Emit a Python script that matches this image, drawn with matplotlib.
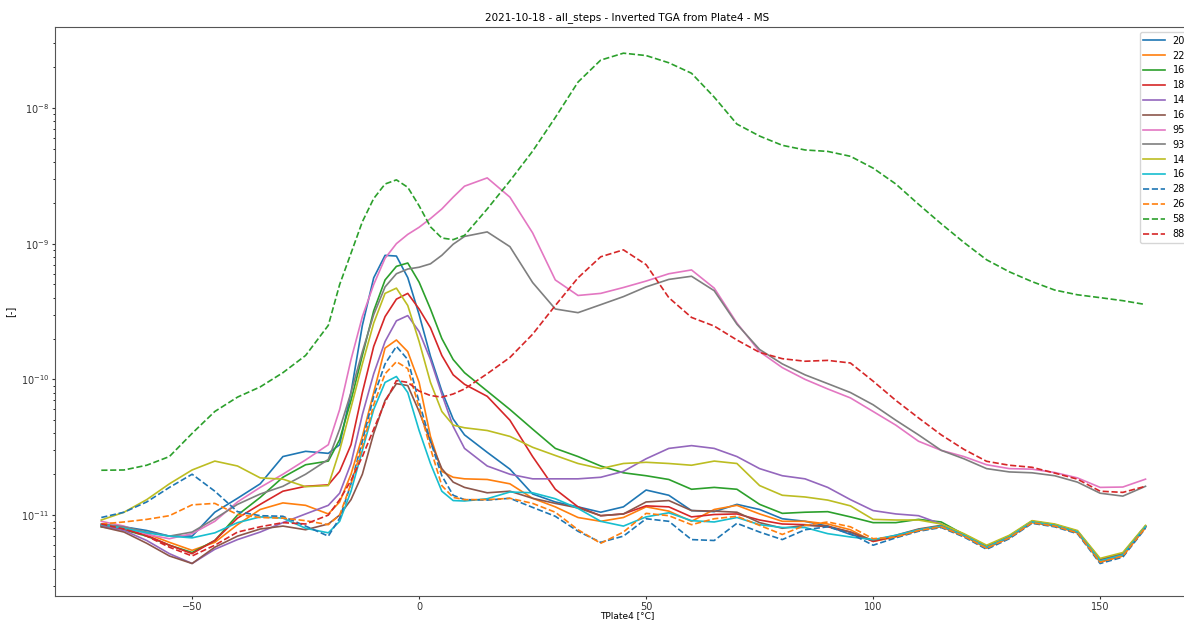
import matplotlib
matplotlib.use("Agg")
import matplotlib.pyplot as plt

# temperature grid [°C]
temp = [-70, -65, -60, -55, -50, -45, -40, -35, -30, -25, -20,
        -17.5, -15, -12.5, -10, -7.5, -5, -2.5, 0, 2.5, 5, 7.5, 10,
        15, 20, 25, 30, 35, 40, 45, 50, 55, 60, 65, 70, 75, 80, 85, 90, 95, 100,
        105, 110, 115, 120, 125, 130, 135, 140, 145, 150, 155, 160]

# signals in units of 1e-12
s209 = [8.5, 8.2, 7.7, 7.0, 7.0, 10.5, 13.3, 17, 27, 29.5, 28.5,
        33, 80, 250, 560, 820, 810, 562, 300, 148, 82, 51, 39,
        29, 21.8, 14.3, 12.5, 11.5, 10.5, 11.5, 15.3, 14, 10.8, 10.6, 12, 11, 9.4, 9.0, 8.3, 7.2, 6.5,
        7.0, 7.8, 8.3, 7.1, 5.8, 6.9, 8.9, 8.4, 7.5, 4.6, 5.1, 8.2]
s226 = [8.4, 8.0, 7.3, 6.3, 5.5, 6.3, 8.5, 11, 12.3, 11.8, 10.2,
        12.5, 20, 38, 80, 170, 195, 160, 95, 38, 21, 19, 18.5,
        18.3, 17, 13.3, 11.5, 9.6, 9.0, 9.6, 11.5, 10.7, 9.0, 11, 11.8, 10.2, 9.0, 9.0, 8.6, 7.8, 6.4,
        6.9, 7.7, 8.2, 7.0, 5.7, 6.8, 8.8, 8.3, 7.4, 4.5, 5.0, 8.1]
s165 = [8.2, 7.8, 7.0, 6.0, 5.3, 6.5, 10, 13.5, 19, 23.5, 25,
        36, 70, 150, 320, 540, 680, 720, 520, 330, 200, 140, 112,
        82, 60, 43, 31, 27, 23, 20.5, 19.5, 18.3, 15.5, 16, 15.5, 12, 10.3, 10.5, 10.6, 9.7, 8.8,
        8.8, 9.3, 8.9, 7.2, 5.9, 7.0, 9.0, 8.5, 7.6, 4.7, 5.2, 8.3]
s180 = [8.4, 7.9, 7.1, 6.0, 5.2, 6.5, 9.5, 12, 15, 16.3, 16.7,
        21, 33, 80, 175, 290, 390, 430, 330, 240, 150, 108, 92,
        75, 50, 27, 15.5, 11.5, 9.9, 10.2, 11.7, 11.5, 9.7, 10.1, 10.2, 9.2, 8.6, 8.5, 8.2, 7.5, 6.4,
        7.0, 7.8, 8.3, 7.1, 5.8, 6.9, 8.9, 8.4, 7.5, 4.6, 5.1, 8.2]
s140 = [8.3, 7.7, 6.5, 5.2, 4.4, 5.6, 6.6, 7.5, 8.8, 10.2, 11.8,
        14.5, 24, 55, 110, 190, 270, 295, 225, 140, 78, 45, 31,
        23, 20, 18.5, 18.5, 18.5, 19, 21, 26, 31, 32.5, 31, 27, 22, 19.5, 18.5, 16, 13, 10.8,
        10.2, 9.9, 8.6, 7.2, 5.9, 7.0, 9.0, 8.5, 7.6, 4.7, 5.2, 8.3]
s168 = [8.2, 7.5, 6.2, 5.0, 4.4, 5.8, 7.0, 7.9, 8.3, 7.8, 8.6,
        10, 13, 20, 40, 70, 93, 90, 58, 35, 22, 17.5, 16,
        14.6, 15, 13.3, 12.2, 11.3, 9.9, 10.2, 12.5, 12.8, 10.8, 10.7, 10.5, 8.8, 8.0, 8.4, 8.3, 7.5, 6.5,
        7.1, 7.9, 8.4, 7.2, 5.9, 7.0, 9.0, 8.5, 7.6, 4.7, 5.2, 8.3]
s95 = [9.0, 8.3, 7.2, 6.7, 7.3, 9.0, 12.5, 16, 20, 25.5, 33,
       60, 140, 290, 500, 780, 1000, 1170, 1320, 1530, 1800, 2200, 2650,
       3050, 2200, 1200, 540, 415, 430, 475, 530, 600, 640, 470, 260, 160, 122, 100, 85, 73, 58,
       46, 35, 30, 27, 23.5, 22, 21.8, 20.6, 18.8, 16, 16.1, 18.4]
s93 = [8.6, 8.2, 7.5, 7.0, 7.5, 9.4, 12.0, 14.3, 16.3, 20, 25.7,
       43, 80, 160, 300, 480, 600, 650, 670, 710, 820, 990, 1130,
       1220, 950, 517, 330, 310, 355, 407, 480, 545, 575, 450, 255, 166, 130, 108, 93, 80, 65,
       50, 39, 30, 26, 22, 20.8, 20.5, 19.5, 17.5, 14.5, 13.8, 16.3]
s147 = [9.2, 10.5, 13, 17, 21.5, 25, 23, 18.8, 18.4, 16.2, 16.5,
        30, 62, 130, 260, 430, 470, 350, 190, 95, 58, 46, 44,
        42, 38, 31.6, 27.5, 24, 22, 24, 24.5, 24, 23.3, 25, 24, 16.5, 14, 13.6, 12.9, 11.7, 9.3,
        9.2, 9.2, 8.6, 7.3, 6.0, 7.1, 9.1, 8.6, 7.7, 4.8, 5.3, 8.4]
s162 = [8.5, 8.0, 7.4, 7.0, 6.8, 7.4, 8.8, 9.7, 9.5, 8.0, 7.4,
        9, 15, 30, 60, 95, 105, 80, 42, 24, 15, 12.8, 12.7,
        13.2, 14.8, 14.6, 13.2, 11.2, 9.0, 8.3, 9.7, 10.4, 9.1, 8.9, 9.6, 8.5, 8.1, 8.1, 7.3, 6.9, 6.6,
        7.1, 7.8, 8.3, 7.1, 5.8, 6.9, 8.9, 8.4, 7.5, 4.6, 5.1, 8.2]
s287 = [9.6, 10.5, 12.5, 16, 20, 15, 10.6, 9.9, 9.8, 8.3, 7.0,
        9.5, 17, 35, 75, 130, 175, 140, 68, 35, 19.5, 14, 13,
        12.9, 13.3, 11.4, 9.8, 7.6, 6.3, 7.0, 9.4, 9.0, 6.6, 6.5, 8.7, 7.5, 6.6, 7.8, 8.2, 7.3, 6.0,
        6.8, 7.6, 8.1, 6.9, 5.6, 6.7, 8.7, 8.2, 7.3, 4.4, 4.9, 8.0]
s264 = [8.6, 8.9, 9.3, 9.9, 11.9, 12.2, 10.1, 9.6, 9.5, 9.1, 8.5,
        10, 17, 32, 65, 110, 135, 120, 62, 31, 16.5, 13.5, 13,
        13, 13.3, 12.2, 10.5, 7.8, 6.2, 7.5, 10.3, 9.9, 8.5, 9.4, 9.8, 8.4, 7.2, 8.4, 8.9, 8.2, 6.7,
        6.9, 7.7, 8.2, 7.0, 5.7, 6.8, 8.8, 8.3, 7.4, 4.5, 5.0, 8.1]
s58 = [21.4, 21.5, 23.3, 27, 40, 58, 74, 88, 112, 150, 250,
       500, 850, 1450, 2150, 2750, 2950, 2600, 1900, 1330, 1100, 1070, 1150,
       1800, 2900, 4800, 8500, 15500, 22500, 25300, 24300, 21500, 18000, 12000, 7600, 6200, 5300, 4900, 4780, 4400, 3600,
       2750, 1950, 1400, 1020, 760, 620, 525, 455, 420, 400, 380, 356]
s88 = [8.6, 7.9, 7.0, 5.8, 5.0, 6.0, 7.5, 8.2, 8.8, 8.6, 10,
       13, 18, 27, 43, 68, 98, 95, 82, 76, 74, 78, 85,
       110, 145, 215, 350, 560, 800, 900, 700, 400, 286, 247, 195, 158, 142, 136, 138, 132, 97,
       70, 52, 39, 30.5, 24.9, 23.3, 22.5, 20.4, 18.4, 15, 14.7, 16.3]

solid_labels = ["209", "226", "165", "180", "140", "168", "95", "93", "147", "162"]
solid_series = [s209, s226, s165, s180, s140, s168, s95, s93, s147, s162]
dashed_labels = ["287", "264", "58", "88"]
dashed_series = [s287, s264, s58, s88]

colors = ["#1f77b4", "#ff7f0e", "#2ca02c", "#d62728", "#9467bd",
          "#8c564b", "#e377c2", "#7f7f7f", "#bcbd22", "#17becf"]
scale = 1e-12

fig = plt.figure(figsize=(11.84, 6.24), dpi=100)
ax = fig.add_axes([55 / 1184, 28 / 624, 1145 / 1184, 569 / 624])

for lab, ser, c in zip(solid_labels, solid_series, colors):
    ax.plot(temp, [v * scale for v in ser], color=c, lw=1.2, label=lab)
for lab, ser, c in zip(dashed_labels, dashed_series, colors):
    ax.plot(temp, [v * scale for v in ser], color=c, lw=1.2, ls="--", label=lab)

ax.set_yscale("log")
ax.set_xlim(-80.2, 172)
ax.set_ylim(10 ** -11.596, 10 ** -7.404)
ax.set_xticks([-50, 0, 50, 100, 150])
ax.tick_params(labelsize=7, colors="#333333", length=2.5, pad=1.5)
ax.tick_params(which="minor", length=1.5)
for sp in ax.spines.values():
    sp.set_color("#555555")
ax.set_title("2021-10-18 - all_steps - Inverted TGA from Plate4 - MS", fontsize=7.5, pad=5)
ax.set_xlabel("TPlate4 [°C]", fontsize=6.5, labelpad=0)
ax.set_ylabel("[-]", fontsize=7, labelpad=4)
ax.legend(loc="upper right", fontsize=7, handlelength=2.2)

fig.savefig("out.png", dpi=100)
